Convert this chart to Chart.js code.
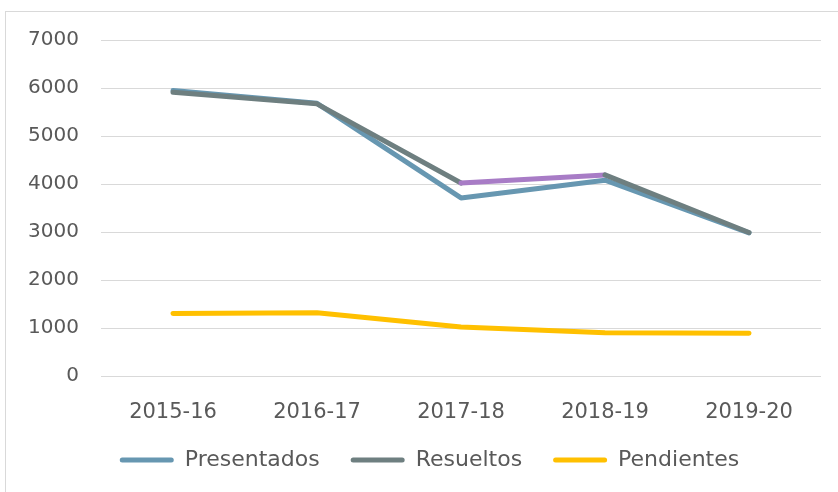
<!DOCTYPE html>
<html>
<head>
<meta charset="utf-8">
<script src="https://cdn.jsdelivr.net/npm/chart.js@4/dist/chart.umd.min.js"></script>
<style>
  html, body { margin: 0; padding: 0; background: #ffffff; }
  #wrap { position: relative; width: 838px; height: 492px; overflow: hidden; }
  #frame { position: absolute; left: 5px; top: 11px; width: 850px; height: 500px; border: 1px solid #d9d9d9; box-sizing: border-box; }
  #c { position: absolute; left: 0; top: 0; }
</style>
</head>
<body>
<div id="wrap">
  <div id="frame"></div>
  <canvas id="c" width="838" height="492"></canvas>
</div>
<script>
const categories = ['2015-16', '2016-17', '2017-18', '2018-19', '2019-20'];
const presentados = [5950, 5680, 3710, 4080, 2980];
const resueltos   = [5910, 5670, 4020, 4190, 2990];
const pendientes  = [1300, 1320, 1020, 900, 890];
const seriesNames = ['Presentados', 'Resueltos', 'Pendientes'];

const colPresentados = '#6797b1';
const colResueltos = '#6e7f80';
const colPendientes = '#ffc000';
const colHighlight = '#a87cc6';
const textColor = '#595959';
const gridColor = '#d9d9d9';
const fontFamily = "'DejaVu Sans', sans-serif";

const legendShift = {
  id: 'legendShift',
  afterLayout(chart) {
    if (chart.legend) { chart.legend.left += 6; chart.legend.right += 6; }
  }
};

new Chart(document.getElementById('c'), {
  type: 'line',
  data: {
    labels: categories,
    datasets: [
      { label: seriesNames[0], data: presentados, borderColor: colPresentados, backgroundColor: colPresentados, order: 1 },
      { label: seriesNames[1], data: resueltos, borderColor: colResueltos, backgroundColor: colResueltos, order: 0,
        segment: { borderColor: ctx => ctx.p0DataIndex === 2 ? colHighlight : undefined } },
      { label: seriesNames[2], data: pendientes, borderColor: colPendientes, backgroundColor: colPendientes, order: 2 }
    ]
  },
  plugins: [legendShift],
  options: {
    responsive: false,
    animation: false,
    devicePixelRatio: 1,
    layout: { padding: { left: 26, right: 17, top: 40, bottom: 11 } },
    elements: {
      line: { borderWidth: 5, tension: 0, borderCapStyle: 'round', borderJoinStyle: 'round', fill: false },
      point: { radius: 0, hoverRadius: 0 }
    },
    scales: {
      x: {
        offset: true,
        grid: { display: false, offset: true },
        border: { display: false },
        ticks: { color: textColor, font: { family: fontFamily, size: 21 }, padding: 16, maxRotation: 0 },
        afterFit: s => { s.height = 42; }
      },
      y: {
        min: 0, max: 7000,
        grid: { color: gridColor, lineWidth: 1, drawTicks: false },
        border: { display: false },
        ticks: { stepSize: 1000, color: textColor, font: { family: fontFamily, size: 20 }, padding: 22,
                 callback: v => String(v) },
        afterFit: s => { s.width = 75; }
      }
    },
    plugins: {
      tooltip: { enabled: false },
      legend: {
        position: 'bottom',
        labels: {
          color: textColor,
          font: { family: fontFamily, size: 22 },
          boxWidth: 54,
          boxHeight: 5,
          useBorderRadius: true,
          borderRadius: 2.5,
          padding: 31,
          sort: (a, b) => a.datasetIndex - b.datasetIndex,
          generateLabels: chart => Chart.defaults.plugins.legend.labels.generateLabels(chart)
            .map(l => Object.assign(l, { lineWidth: 0, fillStyle: l.strokeStyle }))
        }
      }
    }
  }
});
</script>
</body>
</html>
